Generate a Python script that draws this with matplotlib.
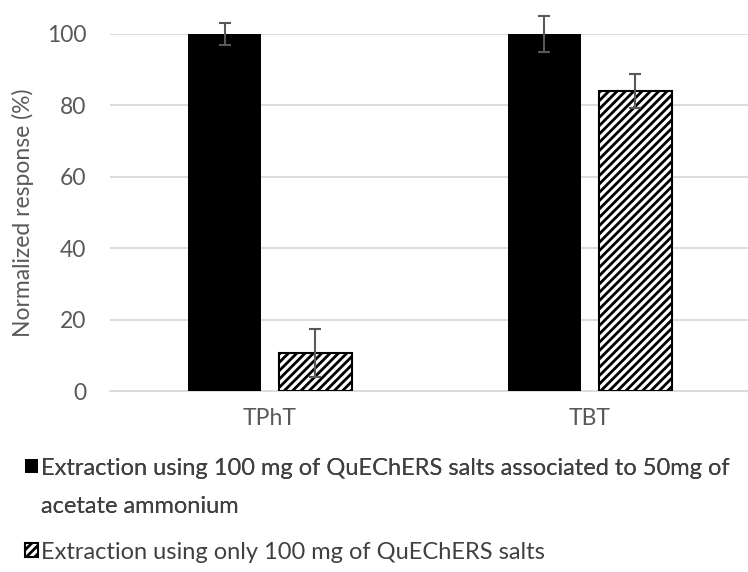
import matplotlib
matplotlib.use("Agg")
import matplotlib.pyplot as plt
from matplotlib.patches import Patch
import numpy as np

compounds = ["TPhT", "TBT"]
with_acetate = [100, 100]
with_acetate_err = [3.1, 5.0]
salts_only = [10.7, 84.0]
salts_only_err = [6.7, 4.7]

label_acetate = ["Extraction using 100 mg of QuEChERS salts associated to 50mg of",
                 "acetate ammonium"]
label_salts = "Extraction using only 100 mg of QuEChERS salts"

plt.rcParams["font.family"] = ["Lato", "DejaVu Sans"]
plt.rcParams["hatch.linewidth"] = 2.0
plt.rcParams["hatch.color"] = "black"

text_color = "#595959"
grid_color = "#d9d9d9"
fs = 16.5
leg_fs = 17

fig = plt.figure(figsize=(7.48, 5.72), dpi=100)
ax = fig.add_axes([0.147, 0.3164, 0.853, 0.6242])

x = np.arange(len(compounds))
width = 0.228
offset = 0.142

err_kw = dict(ecolor="#595959", elinewidth=1.5, capsize=4.5, capthick=1.5)

b1 = ax.bar(x - offset, with_acetate, width, color="black",
            yerr=with_acetate_err, error_kw=err_kw, zorder=3)
b2 = ax.bar(x + offset, salts_only, width, color="white", edgecolor="black",
            linewidth=1.5, hatch="////", yerr=salts_only_err, error_kw=err_kw,
            zorder=3)

# error bars above 100 should not be cut by the axes box
for bars in (b1, b2):
    for line in bars.errorbar.lines[1]:
        line.set_clip_on(False)
    for line in bars.errorbar.lines[2]:
        line.set_clip_on(False)

ax.set_xlim(-0.5, 1.494)
ax.set_ylim(0, 100)
ax.set_yticks([0, 20, 40, 60, 80, 100])
ax.set_xticks(x)
ax.set_xticklabels(compounds)

ax.yaxis.grid(True, color=grid_color, linewidth=1.3, zorder=0)
ax.set_axisbelow(True)
for side in ["top", "right", "left"]:
    ax.spines[side].set_visible(False)
ax.spines["bottom"].set_color(grid_color)
ax.spines["bottom"].set_linewidth(1.3)

ax.tick_params(axis="both", length=0, labelsize=fs, colors=text_color)
ax.tick_params(axis="y", pad=17)
ax.tick_params(axis="x", pad=12)

ax.set_ylabel("Normalized response (%)", fontsize=fs, color=text_color,
              labelpad=9)

leg_kw = dict(loc="upper left", frameon=False, fontsize=leg_fs,
              labelcolor="#404040", handlelength=0.55, handleheight=0.55,
              handletextpad=0.12, borderpad=0, borderaxespad=0)

blank = Patch(visible=False)
leg1 = fig.legend(handles=[b1, blank], labels=label_acetate,
                  bbox_to_anchor=(0.034, 0.200), labelspacing=0.75, **leg_kw)
fig.legend(handles=[b2], labels=[label_salts],
           bbox_to_anchor=(0.034, 0.053), **leg_kw)
fig.add_artist(leg1)

fig.savefig("out.png", dpi=100)
